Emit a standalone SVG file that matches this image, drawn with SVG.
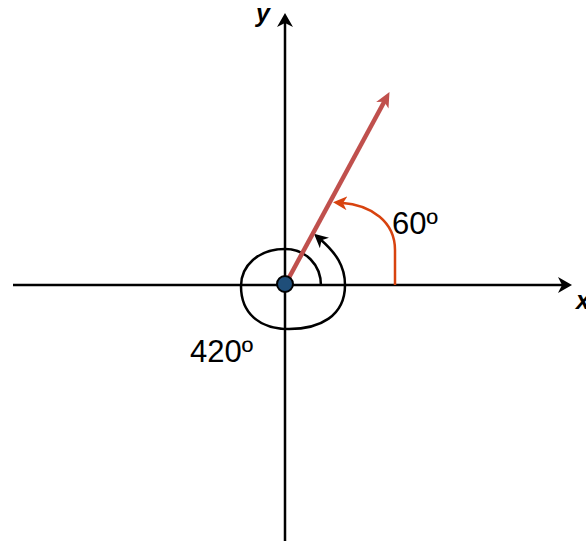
<svg xmlns="http://www.w3.org/2000/svg" width="586" height="542" viewBox="0 0 586 542">
<style>
.axis{fill:none;stroke:#000;stroke-width:2.5}
.spiral{fill:none;stroke:#000;stroke-width:2.5}
.vec{fill:none;stroke:#c0504d;stroke-width:4.5}
.arc{fill:none;stroke:#d8430f;stroke-width:2.5}
.lbl{font-family:"Liberation Sans",Arial,sans-serif;font-size:31px;fill:#000}
.ax{font-family:"Liberation Sans",Arial,sans-serif;font-size:25px;font-weight:bold;font-style:italic;fill:#000}
</style>
<defs>
<marker id="mAxis" markerUnits="userSpaceOnUse" viewBox="0 0 14 16" markerWidth="14" markerHeight="16" refX="6" refY="8" orient="auto">
<path d="M0,0 L14,8 L0,16 L4,8 Z" fill="#000"/>
</marker>
<marker id="mBlack" markerUnits="userSpaceOnUse" viewBox="0 0 14 14" markerWidth="14" markerHeight="14" refX="6" refY="7" orient="auto">
<path d="M0,0 L14,7 L0,14 L4,7 Z" fill="#000"/>
</marker>
<marker id="mRed" markerUnits="userSpaceOnUse" viewBox="0 0 15 14" markerWidth="15" markerHeight="14" refX="6" refY="7" orient="auto">
<path d="M0,0 L15,7 L0,14 L4,7 Z" fill="#c0504d"/>
</marker>
<marker id="mOrange" markerUnits="userSpaceOnUse" viewBox="0 0 14 14" markerWidth="14" markerHeight="14" refX="6" refY="7" orient="auto">
<path d="M0,0 L14,7 L0,14 L4,7 Z" fill="#d8430f"/>
</marker>
</defs>
<g id="connectors">
<path id="x-axis" class="axis" d="M13,285 L564,285" marker-end="url(#mAxis)"/>
<path id="y-axis" class="axis" d="M285,541 L285,21" marker-end="url(#mAxis)"/>
<path id="spiral-420" class="spiral" d="M321,286 C321,264 305,249 285,249 C258,249 241,266 241,286 C241,313 259,329 289,329 C320,329 345,316 345,285 C345,266 336,253 320,239" marker-end="url(#mBlack)"/>
<path id="vector" class="vec" d="M285,285 L385.2,100" marker-end="url(#mRed)"/>
<path id="arc-60" class="arc" d="M395,285 L395,250 C395,222 372,205 341,202.8" marker-end="url(#mOrange)"/>
</g>
<g id="origin">
<circle cx="285" cy="284" r="8" fill="#1f4e79" stroke="#000" stroke-width="2"/>
</g>
<g id="labels">
<text class="ax" x="256" y="22">y</text>
<text class="ax" x="576" y="309">x</text>
<text class="lbl" x="392" y="234">60º</text>
<text class="lbl" x="190" y="362">420º</text>
</g>
</svg>
